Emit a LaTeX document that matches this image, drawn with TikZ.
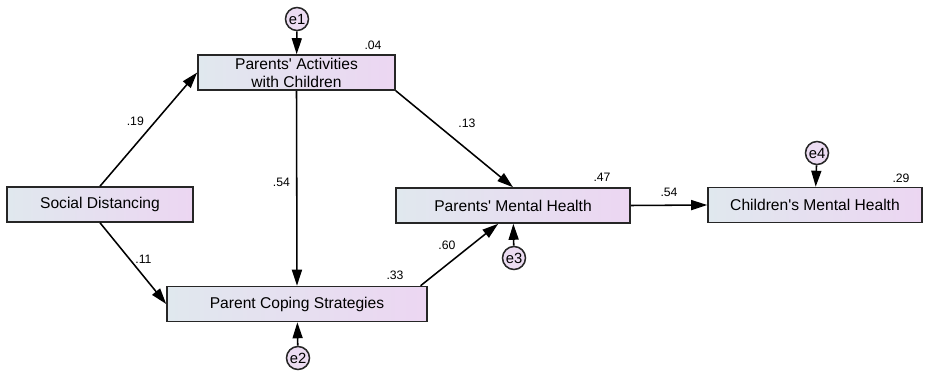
\documentclass[tikz,border=0pt]{standalone}
\usepackage{fontspec}
\setmainfont{Liberation Sans}
\usetikzlibrary{arrows.meta,positioning}

\definecolor{boxleft}{RGB}{224,232,238}
\definecolor{boxright}{RGB}{236,214,242}
\definecolor{errfill}{RGB}{236,220,242}

\begin{document}
\begin{tikzpicture}[x=0.025cm,y=-0.025cm,
  var/.style={rectangle,draw=black!85,line width=1.1pt,left color=boxleft,right color=boxright,minimum height=0.875cm,inner sep=0pt,align=center,font=\fontsize{11.1}{12.8}\selectfont},
  err/.style={circle,draw=black!85,line width=1.1pt,fill=errfill,minimum size=0.575cm,inner sep=0pt,font=\fontsize{10.5}{12}\selectfont},
  coef/.style={inner sep=0pt,font=\fontsize{8.7}{10}\selectfont},
  path/.style={-{Triangle[length=0.4cm,width=0.25cm]},line width=1.1pt}]
\useasboundingbox (0,0) rectangle (927,372);

\node[var,minimum width=4.65cm](sd) at (100,204.5) {Social Distancing};
\node[var,minimum width=4.925cm](pac) at (296.5,72.5) {Parents\textquotesingle{} Activities\\with Children};
\node[var,minimum width=6.5cm](pcs) at (297,304) {Parent Coping Strategies};
\node[var,minimum width=5.85cm](pmh) at (513,205.5) {Parents\textquotesingle{} Mental Health};
\node[var,minimum width=5.35cm](cmh) at (815,205) {Children\textquotesingle{}s Mental Health};

\node[err](e1) at (297,19) {e1};
\node[err](e2) at (298,358) {e2};
\node[err](e3) at (514,258) {e3};
\node[err](e4) at (817,153) {e4};

\draw [path](sd.north) to node[coef,left=0.27cm,pos=0.57](c19) {.19} (pac.west);
\draw [path](sd.south) to node[coef,right=0.12cm,pos=0.45](c11) {.11} (pcs.west);
\draw [path](pac.south) to node[coef,left=0.15cm,pos=0.47](c54a) {.54} (pcs.north);
\draw [path](pac.south east) to node[coef,right=0.55cm,pos=0.34](c13) {.13} (pmh.north);
\draw [path]([xshift=-0.18cm]pcs.north east) to node[coef,left=0.37cm,pos=0.65](c60) {.60} ([xshift=-0.37cm]pmh.south);
\draw [path](pmh.east) to node[coef,above=0.2cm](c54b) {.54} (cmh.west);

\draw [path](e1) to (pac);
\draw [path](e2) to (pcs);
\draw [path](e3) to (pmh);
\draw [path](e4) to (cmh);

\node[coef](r04) at (373,45) {.04};
\node[coef](r33) at (395,275) {.33};
\node[coef](r47) at (602,177) {.47};
\node[coef](r29) at (901,178) {.29};
\end{tikzpicture}
\end{document}
